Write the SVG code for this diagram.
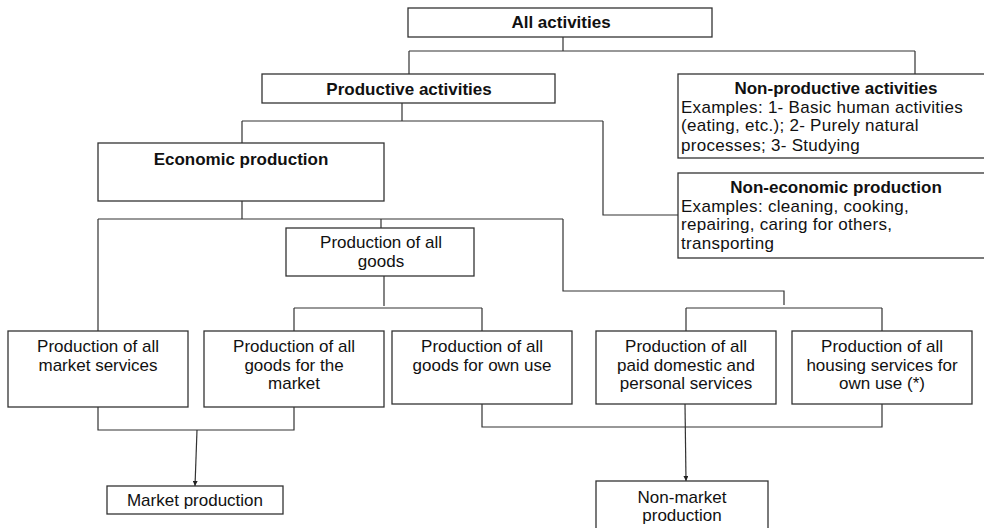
<svg xmlns="http://www.w3.org/2000/svg" width="984" height="528" viewBox="0 0 984 528">
<style>
.box{fill:#fff;stroke:#333;stroke-width:1.3}
.ln{fill:none;stroke:#333;stroke-width:1.2}
text{font-family:"Liberation Sans",Arial,sans-serif;font-size:17px;fill:#111}
.b{font-weight:bold}
.c{text-anchor:middle}
.ex{letter-spacing:0.28px}
</style>
<defs>
<marker id="ah" viewBox="0 0 6 6" refX="6" refY="3" markerWidth="5" markerHeight="5" orient="auto" markerUnits="userSpaceOnUse">
<path d="M0,0 L6,3 L0,6 z" fill="#222"/>
</marker>
</defs>
<rect width="984" height="528" fill="#fff"/>
<g id="connectors">
<path class="ln" d="M563,37 V51 M409,51 H915 M409,51 V74 M915,51 V74"/>
<path class="ln" d="M402,103 V121 M242,121 H603 M242,121 V143 M603,121 V215 H678"/>
<path class="ln" d="M242,201 V219 M98,219 H563 M98,219 V331 M381,219 V228 M563,219 V291 H784 V305"/>
<path class="ln" d="M686,308 H882 M686,308 V331 M882,308 V331"/>
<path class="ln" d="M384,276 V306 M294,308 H482 M294,308 V331 M482,308 V331"/>
<path class="ln" d="M98,407 V430 H294 V407"/>
<path class="ln" d="M482,404 V427 H882 V404"/>
<path class="ln" d="M197,430 L195,486" marker-end="url(#ah)"/>
<path class="ln" d="M685,404 L686,481" marker-end="url(#ah)"/>
</g>
<g id="all-activities">
<rect class="box" x="408" y="8" width="304" height="29"/>
<text class="b c" x="561" y="28">All activities</text>
</g>
<g id="productive-activities">
<rect class="box" x="262" y="74" width="293" height="29"/>
<text class="b c" x="409" y="95">Productive activities</text>
</g>
<g id="non-productive-activities">
<rect class="box" x="678" y="74" width="320" height="84"/>
<text class="b c" x="836" y="94">Non-productive activities</text>
<text class="ex" x="681" y="113">Examples: 1- Basic human activities</text>
<text class="ex" x="681" y="131">(eating, etc.); 2- Purely natural</text>
<text class="ex" x="681" y="151">processes; 3- Studying</text>
</g>
<g id="economic-production">
<rect class="box" x="98" y="143" width="286" height="58"/>
<text class="b c" x="241" y="165">Economic production</text>
</g>
<g id="non-economic-production">
<rect class="box" x="678" y="173" width="320" height="85"/>
<text class="b c" x="836" y="193">Non-economic production</text>
<text class="ex" x="681" y="212">Examples: cleaning, cooking,</text>
<text class="ex" x="681" y="230">repairing, caring for others,</text>
<text class="ex" x="681" y="249">transporting</text>
</g>
<g id="production-of-all-goods">
<rect class="box" x="286" y="228" width="188" height="48"/>
<text class="c" x="381" y="248">Production of all</text>
<text class="c" x="381" y="267">goods</text>
</g>
<g id="market-services">
<rect class="box" x="8" y="331" width="180" height="76"/>
<text class="c" x="98" y="352">Production of all</text>
<text class="c" x="98" y="371">market services</text>
</g>
<g id="goods-for-market">
<rect class="box" x="204" y="331" width="180" height="76"/>
<text class="c" x="294" y="352">Production of all</text>
<text class="c" x="294" y="371">goods for the</text>
<text class="c" x="294" y="389">market</text>
</g>
<g id="goods-for-own-use">
<rect class="box" x="392" y="331" width="180" height="73"/>
<text class="c" x="482" y="352">Production of all</text>
<text class="c" x="482" y="371">goods for own use</text>
</g>
<g id="paid-domestic-services">
<rect class="box" x="596" y="331" width="180" height="73"/>
<text class="c" x="686" y="352">Production of all</text>
<text class="c" x="686" y="371">paid domestic and</text>
<text class="c" x="686" y="389">personal services</text>
</g>
<g id="housing-services">
<rect class="box" x="792" y="331" width="180" height="73"/>
<text class="c" x="882" y="352">Production of all</text>
<text class="c" x="882" y="371">housing services for</text>
<text class="c" x="882" y="389">own use (*)</text>
</g>
<g id="market-production">
<rect class="box" x="107" y="486" width="176" height="28"/>
<text class="c" x="195" y="506">Market production</text>
</g>
<g id="non-market-production">
<rect class="box" x="596" y="481" width="172" height="60"/>
<text class="c" x="682" y="503">Non-market</text>
<text class="c" x="682" y="521">production</text>
</g>
</svg>
